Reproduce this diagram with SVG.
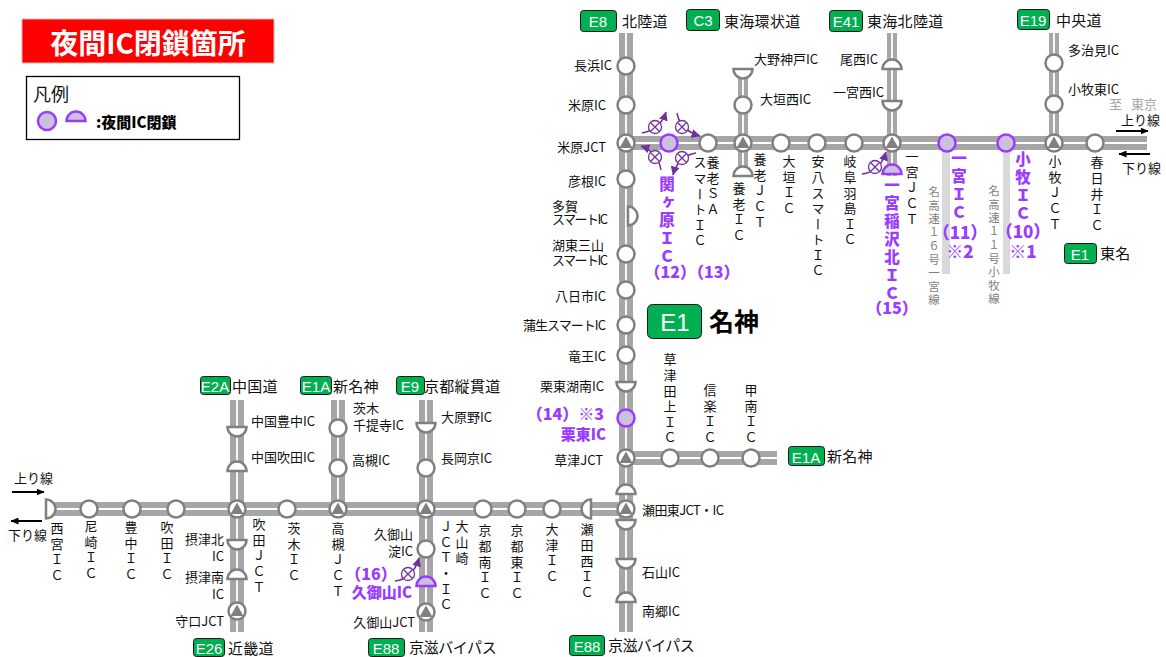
<svg xmlns="http://www.w3.org/2000/svg" width="1166" height="657" viewBox="0 0 1166 657">
<style>
text{font-family:"Noto Sans CJK JP","Noto Sans",sans-serif;fill:#111;dominant-baseline:central}
.l{font-size:13px;transform:translateY(-1px)}
.e{text-anchor:end}
.m{text-anchor:middle}
.v{font-size:13px;writing-mode:vertical-rl;text-orientation:upright;letter-spacing:2.6px;dominant-baseline:auto}
.r{font-size:15px;letter-spacing:.3px;transform:translateY(-1px)}
.b{fill:#fff;font-size:15px;text-anchor:middle;font-family:"Liberation Sans",sans-serif}
.p{fill:#9a3cff;font-weight:900;transform:translateY(-1px)}
.pv{fill:#9a3cff;font-weight:900;font-size:15.5px;writing-mode:vertical-rl;text-orientation:upright;letter-spacing:2.6px;dominant-baseline:auto}
.gv{fill:#7f7f7f;font-size:11.5px;writing-mode:vertical-rl;text-orientation:upright;letter-spacing:2px;dominant-baseline:auto}
.road{stroke:#a6a6a6;fill:none}
.w14{stroke-width:14}
.w10{stroke-width:10}
.c{stroke:#fff;stroke-width:1.8;fill:none}
.bar{fill:#d9d9d9}
.n{fill:#fff;stroke:#808080;stroke-width:2.5}
.t{fill:#808080}
.cl{fill:#ccc1da;stroke:#9a3cff;stroke-width:2.5}
.badge{fill:#00b050;stroke:#1a1a1a;stroke-width:1}
.ar{stroke:#000;stroke-width:2;fill:none;marker-end:url(#ah)}
.bk{stroke:#7030a0;stroke-width:1.5;fill:none;marker-end:url(#ap)}
.xm{fill:#fff;stroke:#7030a0;stroke-width:1.3}
</style>
<defs>
<marker id="ah" markerWidth="8" markerHeight="7" refX="7.5" refY="3.5" orient="auto" markerUnits="userSpaceOnUse"><path d="M0,0L8,3.5L0,7Z" fill="#000"/></marker>
<marker id="ap" markerWidth="10" markerHeight="9" refX="8.5" refY="4.5" orient="auto" markerUnits="userSpaceOnUse"><path d="M0,0L9,4.5L0,9Z" fill="#7030a0"/></marker>
<path id="hu" d="M-9.5,0A9.5,9.5 0 0 1 9.5,0Z"/>
<g id="j"><circle r="8.5" class="n"/><path d="M0,-6.5L-6.5,5H6.5Z" class="t"/></g>
<g id="xx"><circle r="6.5" class="xm"/><path d="M-4.5,-4.5L4.5,4.5M-4.5,4.5L4.5,-4.5" class="xm"/></g>
</defs>

<g id="title"><rect x="22" y="19" width="252" height="44" fill="#f00" stroke="#d9b3b3"/><text x="148" y="42" class="m" style="fill:#fff;font-size:28px;font-weight:700">夜間IC閉鎖箇所</text></g>
<g id="legend"><rect x="26.500" y="76.500" width="213" height="63" fill="#fff" stroke="#000" stroke-width="1.300"/><text x="33" y="93" style="font-size:18px">凡例</text><circle cx="47" cy="121" r="9" class="cl"/><use href="#hu" x="76" y="121" class="cl"/><text x="96" y="121" style="font-size:15px;font-weight:900;fill:#000">:夜間IC閉鎖</text></g>

<g id="connectors">
<rect x="942" y="150" width="8" height="124" class="bar"/>
<rect x="1003" y="150" width="7" height="124" class="bar"/>
<path class="road w14" d="M626,33V632M626,143H1147M46,509H626M237,400V632M338,400V509M426,400V632M626,458H777"/>
<path class="road w10" d="M743,70V176M892,33V176M1054,33V143"/>
<path class="c" d="M626,33V632M626,143H1147M46,509H626M237,400V632M338,400V509M426,400V632M626,458H777M743,70V176M892,33V176M1054,33V143"/>
<path class="ar" d="M1116,131H1148"/><path class="ar" d="M1150,154H1119"/>
<path class="ar" d="M12,492H44"/><path class="ar" d="M42,521H11"/>
<path class="bk" d="M642,133Q660,130 666,112"/>
<path class="bk" d="M677,113Q680,130 700,136"/>
<path class="bk" d="M661,170Q658,152 641,146"/>
<path class="bk" d="M696,153Q678,156 673,175"/>
<path class="bk" d="M862,174Q880,172 886,152"/>
<path class="bk" d="M395,581Q413,579 419,558"/>
<use href="#xx" x="655" y="127"/><use href="#xx" x="682" y="127"/><use href="#xx" x="655" y="157"/><use href="#xx" x="682" y="158"/><use href="#xx" x="875" y="167"/><use href="#xx" x="408" y="574"/>
</g>

<g id="road-labels">
<g id="r-e8"><rect x="580.500" y="10.500" width="36" height="21" rx="3" class="badge"/><text x="598" y="21" class="b">E8</text><text x="622" y="21" class="r">北陸道</text></g>
<g id="r-c3"><rect x="686.500" y="9.500" width="33" height="21" rx="3" class="badge"/><text x="703" y="20" class="b">C3</text><text x="724" y="21" class="r">東海環状道</text></g>
<g id="r-e41"><rect x="829.500" y="10.500" width="33" height="21" rx="3" class="badge"/><text x="846" y="21" class="b">E41</text><text x="867" y="21" class="r">東海北陸道</text></g>
<g id="r-e19"><rect x="1017.500" y="9.500" width="32" height="20" rx="3" class="badge"/><text x="1033" y="20" class="b">E19</text><text x="1056" y="20" class="r">中央道</text></g>
<g id="r-e1b"><rect x="1064.500" y="243.500" width="32" height="20" rx="3" class="badge"/><text x="1080" y="254" class="b">E1</text><text x="1100" y="253" class="r">東名</text></g>
<g id="r-e1"><rect x="647.500" y="304.500" width="54" height="34" rx="5" class="badge"/><text x="675" y="322" class="b" style="font-size:24px">E1</text><text x="709" y="320" style="font-size:25px;font-weight:700;fill:#000">名神</text></g>
<g id="r-e1a"><rect x="788.500" y="446.500" width="36" height="19" rx="3" class="badge"/><text x="806" y="457" class="b">E1A</text><text x="827" y="456" class="r">新名神</text></g>
<g id="r-e2a"><rect x="200.500" y="376.500" width="30" height="18" rx="3" class="badge"/><text x="215" y="386" class="b">E2A</text><text x="232" y="386" class="r">中国道</text></g>
<g id="r-e1a2"><rect x="300.500" y="376.500" width="31" height="18" rx="3" class="badge"/><text x="316" y="386" class="b">E1A</text><text x="333" y="386" class="r">新名神</text></g>
<g id="r-e9"><rect x="396.500" y="376.500" width="28" height="18" rx="3" class="badge"/><text x="410" y="386" class="b">E9</text><text x="424" y="386" class="r">京都縦貫道</text></g>
<g id="r-e26"><rect x="193.500" y="638.500" width="31" height="18" rx="3" class="badge"/><text x="209" y="648" class="b">E26</text><text x="228" y="648" class="r">近畿道</text></g>
<g id="r-e88a"><rect x="368.500" y="638.500" width="36" height="18" rx="3" class="badge"/><text x="386" y="648" class="b">E88</text><text x="409" y="647" class="r" textLength="88">京滋バイパス</text></g>
<g id="r-e88b"><rect x="569.500" y="635.500" width="35" height="20" rx="3" class="badge"/><text x="587" y="646" class="b">E88</text><text x="608" y="645" class="r" textLength="87">京滋バイパス</text></g>
</g>

<g id="nodes">
<g id="n-nagahama"><circle cx="626" cy="66" r="8.500" class="n"/><text x="612" y="65" class="l e">長浜IC</text></g>
<g id="n-maibara"><circle cx="626" cy="105" r="8.500" class="n"/><text x="606" y="105" class="l e">米原IC</text></g>
<g id="n-maibara-jct"><use href="#j" x="626" y="143"/><text x="606" y="147" class="l e">米原JCT</text></g>
<g id="n-hikone"><circle cx="626" cy="179" r="8.500" class="n"/><text x="606" y="181" class="l e">彦根IC</text></g>
<g id="n-taga"><use href="#hu" transform="translate(628,216) rotate(90)" class="n"/><text x="552" y="206" class="l">多賀</text><text x="552" y="219" class="l" textLength="56">スマートIC</text></g>
<g id="n-koto"><circle cx="626" cy="254" r="8.500" class="n"/><text x="552" y="245" class="l">湖東三山</text><text x="552" y="260" class="l" textLength="56">スマートIC</text></g>
<g id="n-yokaichi"><circle cx="626" cy="290" r="8.500" class="n"/><text x="606" y="296" class="l e">八日市IC</text></g>
<g id="n-gamo"><circle cx="626" cy="325" r="8.500" class="n"/><text x="523" y="325" class="l" textLength="83">蒲生スマートIC</text></g>
<g id="n-ryuo"><circle cx="626" cy="355" r="8.500" class="n"/><text x="606" y="356" class="l e">竜王IC</text></g>
<g id="n-ritto-konan"><use href="#hu" transform="translate(626,382) rotate(180)" class="n"/><text x="604" y="386" class="l e">栗東湖南IC</text></g>
<g id="n-ritto"><circle cx="626" cy="418" r="8.500" class="cl"/><text x="604" y="414" class="p e" style="font-size:16px">（14）※3</text><text x="606" y="434" class="p e" style="font-size:15px">栗東IC</text></g>
<g id="n-kusatsu-jct"><use href="#j" x="626" y="458"/><text x="603" y="460" class="l e">草津JCT</text></g>
<g id="n-seta-u"><use href="#hu" x="626" y="494" class="n"/></g>
<g id="n-seta-jct"><use href="#j" x="626" y="509"/><text x="642" y="510" class="l" textLength="82">瀬田東JCT・IC</text></g>
<g id="n-seta-d"><use href="#hu" transform="translate(626,520) rotate(180)" class="n"/></g>
<g id="n-ishiyama"><use href="#hu" transform="translate(626,559) rotate(180)" class="n"/><text x="642" y="572" class="l">石山IC</text></g>
<g id="n-nango"><use href="#hu" x="626" y="602" class="n"/><text x="642" y="611" class="l">南郷IC</text></g>

<g id="n-sekigahara"><circle cx="669" cy="143" r="8.500" class="cl"/><text x="667" y="176" class="pv">関ヶ原ＩＣ</text><text x="692" y="272" class="p m" style="font-size:16px">（12）（13）</text></g>
<g id="n-yoro-sa"><circle cx="708" cy="143" r="8.500" class="n"/><text x="713" y="156" class="v">養老ＳＡ</text><text x="700" y="156" class="v">スマートＩＣ</text></g>
<g id="n-ono"><use href="#hu" transform="translate(743,69) rotate(180)" class="n"/><text x="754" y="59" class="l">大野神戸IC</text></g>
<g id="n-ogaki-w"><circle cx="743" cy="105" r="8.500" class="n"/><text x="760" y="99" class="l">大垣西IC</text></g>
<g id="n-yoro-jct"><use href="#j" x="743" y="143"/><text x="760" y="153" class="v">養老ＪＣＴ</text></g>
<g id="n-yoro"><use href="#hu" x="743" y="176" class="n"/><text x="739" y="182" class="v">養老ＩＣ</text></g>
<g id="n-ogaki"><circle cx="781" cy="143" r="8.500" class="n"/><text x="789" y="155" class="v">大垣ＩＣ</text></g>
<g id="n-anpachi"><circle cx="817" cy="143" r="8.500" class="n"/><text x="818" y="155" class="v">安八スマートＩＣ</text></g>
<g id="n-gifu"><circle cx="854" cy="143" r="8.500" class="n"/><text x="850" y="155" class="v">岐阜羽島ＩＣ</text></g>
<g id="n-bisai"><use href="#hu" x="892" y="69" class="n"/><text x="878" y="59" class="l e">尾西IC</text></g>
<g id="n-ichinomiya-w"><use href="#hu" transform="translate(892,101) rotate(180)" class="n"/><text x="884" y="92" class="l e">一宮西IC</text></g>
<g id="n-ichinomiya-jct"><use href="#j" x="892" y="143"/><text x="912" y="150" class="v">一宮ＪＣＴ</text></g>
<g id="n-inazawa"><use href="#hu" x="892" y="174" class="cl"/><text x="892" y="177" class="pv">一宮稲沢北ＩＣ</text><text x="892" y="308" class="p m" style="font-size:16px">（15）</text></g>
<g id="n-ichinomiya"><circle cx="947" cy="143" r="8.500" class="cl"/><text x="959" y="150" class="pv">一宮ＩＣ</text><text x="960" y="232" class="p m" style="font-size:17px">（11）</text><text x="960" y="251" class="p m" style="font-size:17px">※2</text><text x="934" y="186" class="gv">名高速１６号一宮線</text></g>
<g id="n-komaki"><circle cx="1006" cy="143" r="8.500" class="cl"/><text x="1023" y="151" class="pv">小牧ＩＣ</text><text x="1023" y="231" class="p m" style="font-size:17px">（10）</text><text x="1023" y="251" class="p m" style="font-size:17px">※1</text><text x="994" y="185" class="gv">名高速１１号小牧線</text></g>
<g id="n-tajimi"><circle cx="1054" cy="63" r="8.500" class="n"/><text x="1068" y="50" class="l">多治見IC</text></g>
<g id="n-komaki-e"><circle cx="1054" cy="104" r="8.500" class="n"/><text x="1068" y="89" class="l">小牧東IC</text></g>
<g id="n-komaki-jct"><use href="#j" x="1054" y="143"/><text x="1055" y="155" class="v">小牧ＪＣＴ</text></g>
<g id="n-kasugai"><circle cx="1095" cy="143" r="8.500" class="n"/><text x="1097" y="156" class="v">春日井ＩＣ</text></g>

<g id="n-kusatsutanakami"><circle cx="670" cy="458" r="8.500" class="n"/><text x="670" y="353" class="v">草津田上ＩＣ</text></g>
<g id="n-shigaraki"><circle cx="710" cy="458" r="8.500" class="n"/><text x="710" y="384" class="v">信楽ＩＣ</text></g>
<g id="n-konan"><circle cx="751" cy="458" r="8.500" class="n"/><text x="751" y="384" class="v">甲南ＩＣ</text></g>

<g id="n-nishinomiya"><use href="#hu" transform="translate(46,509) rotate(90)" class="n"/><text x="57" y="522" class="v">西宮ＩＣ</text></g>
<g id="n-amagasaki"><circle cx="89" cy="509" r="8.500" class="n"/><text x="91" y="520" class="v">尼崎ＩＣ</text></g>
<g id="n-toyonaka"><circle cx="132" cy="509" r="8.500" class="n"/><text x="131" y="521" class="v">豊中ＩＣ</text></g>
<g id="n-suita"><circle cx="176" cy="509" r="8.500" class="n"/><text x="167" y="521" class="v">吹田ＩＣ</text></g>
<g id="n-chugoku-toyonaka"><use href="#hu" transform="translate(237,427) rotate(180)" class="n"/><text x="251" y="421" class="l">中国豊中IC</text></g>
<g id="n-chugoku-suita"><use href="#hu" x="237" y="471" class="n"/><text x="251" y="457" class="l">中国吹田IC</text></g>
<g id="n-suita-jct"><use href="#j" x="237" y="509"/><text x="259" y="518" class="v">吹田ＪＣＴ</text></g>
<g id="n-settsu-n"><use href="#hu" transform="translate(237,540) rotate(180)" class="n"/><text x="224" y="539" class="l e">摂津北</text><text x="224" y="556" class="l e">IC</text></g>
<g id="n-settsu-s"><use href="#hu" x="237" y="579" class="n"/><text x="224" y="577" class="l e">摂津南</text><text x="224" y="594" class="l e">IC</text></g>
<g id="n-moriguchi"><use href="#j" x="237" y="611"/><text x="224" y="621" class="l e">守口JCT</text></g>
<g id="n-ibaraki"><circle cx="287" cy="509" r="8.500" class="n"/><text x="294" y="522" class="v">茨木ＩＣ</text></g>
<g id="n-senda"><circle cx="338" cy="428" r="8.500" class="n"/><text x="353" y="408" class="l">茨木</text><text x="353" y="425" class="l">千提寺IC</text></g>
<g id="n-takatsuki"><circle cx="338" cy="468" r="8.500" class="n"/><text x="352" y="460" class="l">高槻IC</text></g>
<g id="n-takatsuki-jct"><use href="#j" x="338" y="509"/><text x="338" y="522" class="v">高槻ＪＣＴ</text></g>
<g id="n-oharano"><use href="#hu" transform="translate(426,423) rotate(180)" class="n"/><text x="441" y="417" class="l">大原野IC</text></g>
<g id="n-nagaokakyo"><circle cx="426" cy="468" r="8.500" class="n"/><text x="441" y="458" class="l">長岡京IC</text></g>
<g id="n-oyamazaki"><use href="#j" x="426" y="509"/><text x="446" y="520" class="v">ＪＣＴ・ＩＣ</text><text x="462" y="520" class="v">大山崎</text></g>
<g id="n-yodo"><circle cx="426" cy="549" r="8.500" class="n"/><text x="413" y="534" class="l e">久御山</text><text x="413" y="551" class="l e">淀IC</text></g>
<g id="n-kumiyama"><use href="#hu" x="426" y="586" class="cl"/><text x="371" y="574" class="p m" style="font-size:16px">（16）</text><text x="412" y="592" class="p e" style="font-size:15px">久御山IC</text></g>
<g id="n-kumiyama-jct"><use href="#j" x="426" y="612"/><text x="415" y="622" class="l e">久御山JCT</text></g>
<g id="n-kyoto-s"><circle cx="483" cy="509" r="8.500" class="n"/><text x="485" y="524" class="v">京都南ＩＣ</text></g>
<g id="n-kyoto-e"><circle cx="517" cy="509" r="8.500" class="n"/><text x="517" y="524" class="v">京都東ＩＣ</text></g>
<g id="n-otsu"><circle cx="552" cy="509" r="8.500" class="n"/><text x="552" y="523" class="v">大津ＩＣ</text></g>
<g id="n-seta-w"><use href="#hu" transform="translate(591,509) rotate(-90)" class="n"/><text x="587" y="523" class="v">瀬田西ＩＣ</text></g>
</g>

<g id="notes">
<text x="1109" y="104" class="l" style="fill:#a6a6a6">至</text><text x="1157" y="104" class="l e" style="fill:#a6a6a6">東京</text>
<text x="1121" y="120" class="l">上り線</text><text x="1122" y="168" class="l">下り線</text>
<text x="14" y="478" class="l">上り線</text><text x="8" y="535" class="l">下り線</text>
</g>
</svg>
